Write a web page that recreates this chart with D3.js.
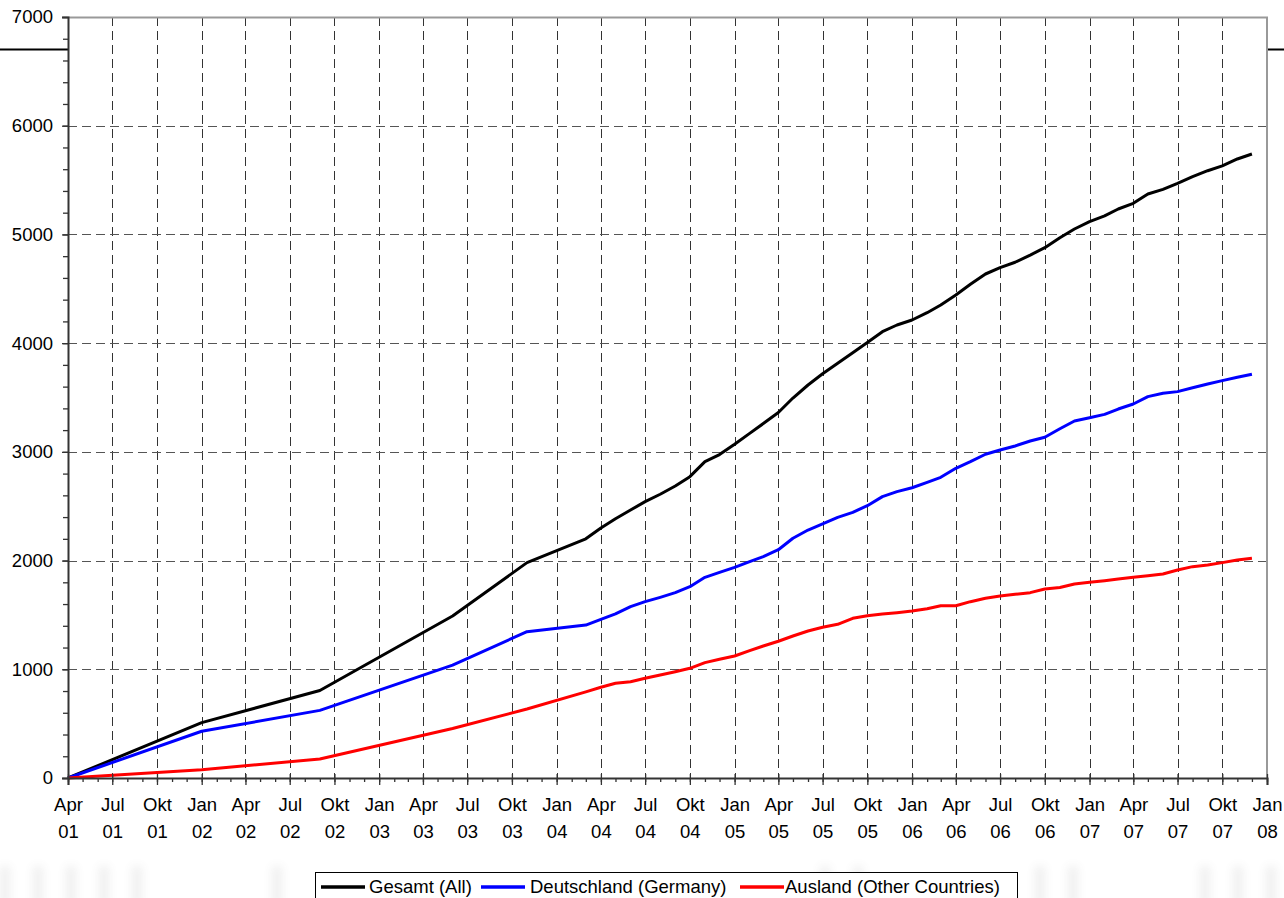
<!DOCTYPE html>
<html><head><meta charset="utf-8">
<script src="https://cdn.jsdelivr.net/npm/d3@7"></script>
<style>
html,body{margin:0;padding:0;background:#fff;}
svg{display:block;font-family:"Liberation Sans",Arial,sans-serif;}
</style></head>
<body>
<svg id="chart" width="1284" height="898"></svg>
<script>
const dates = ["2001-04","2002-01","2002-09","2003-06","2003-11","2004-03",
"2004-04","2004-05","2004-06","2004-07","2004-08","2004-09","2004-10","2004-11","2004-12",
"2005-01","2005-02","2005-03","2005-04","2005-05","2005-06","2005-07","2005-08","2005-09","2005-10","2005-11","2005-12",
"2006-01","2006-02","2006-03","2006-04","2006-05","2006-06","2006-07","2006-08","2006-09","2006-10","2006-11","2006-12",
"2007-01","2007-02","2007-03","2007-04","2007-05","2007-06","2007-07","2007-08","2007-09","2007-10","2007-11","2007-12"];

const gesamt = [0,509,805,1490,1981,2200,
2300,2385,2465,2542,2610,2686,2772,2910,2975,
3070,3170,3260,3362,3495,3615,3718,3815,3912,4005,4105,4167,
4213,4280,4351,4443,4541,4636,4694,4744,4810,4878,4970,5050,
5118,5170,5234,5286,5372,5415,5470,5531,5586,5630,5694,5740];

const deutschland = [0,430,622,1039,1346,1407,
1460,1509,1576,1622,1662,1705,1760,1846,1892,
1938,1990,2036,2100,2205,2281,2337,2398,2444,2505,2588,2634,
2670,2720,2766,2849,2910,2978,3017,3054,3100,3134,3212,3284,
3314,3345,3394,3440,3508,3539,3554,3590,3624,3655,3686,3714];

const ausland = [0,76,175,455,635,792,
835,871,886,917,948,978,1009,1061,1092,
1122,1171,1214,1258,1306,1352,1386,1414,1469,1493,1509,1521,
1536,1557,1585,1585,1622,1653,1674,1690,1705,1738,1752,1785,
1800,1815,1831,1846,1861,1877,1913,1944,1959,1981,2005,2021];

const seriesNames = ["Gesamt (All)","Deutschland (Germany)","Ausland (Other Countries)"];
const seriesColors = ["#000000","#0000ff","#ff0000"];
const monthNames = ["Jan","Feb","Mär","Apr","Mai","Jun","Jul","Aug","Sep","Okt","Nov","Dez"];
const yTicks = [0,1000,2000,3000,4000,5000,6000,7000];

const parse = d3.timeParse("%Y-%m");
const svg = d3.select("#chart");
const L = 68, R = 1267, T = 17, B = 778;
const FS = 18.5;

const x = d3.scaleTime().domain([new Date(2001,3,1), new Date(2008,0,1)]).range([L, R]);
const y = d3.scaleLinear().domain([0,7000]).range([B, T]);

// faint ghost stripes at bottom
const defs = svg.append("defs");
defs.append("filter").attr("id","blur").attr("x","-50%").attr("y","-50%").attr("width","200%").attr("height","200%")
  .append("feGaussianBlur").attr("stdDeviation",5);
const ghost = svg.append("g").attr("filter","url(#blur)").attr("opacity",0.09);
[[0,140],[272,30],[820,45],[1035,45],[1200,84]].forEach(([gx,gw])=>{
  for(let i=0;i<gw;i+=33){
    ghost.append("rect").attr("x",gx+i).attr("y",866).attr("width",10).attr("height",40).attr("fill","#555");
  }
});

// background header line (hidden behind plot)
svg.append("line").attr("x1",0).attr("x2",1284).attr("y1",49.5).attr("y2",49.5)
  .attr("stroke","#000").attr("stroke-width",2);
svg.append("rect").attr("x",L).attr("y",T).attr("width",R-L).attr("height",B-T).attr("fill","#fff");

// grid
const quarterTicks = d3.timeMonth.every(3).range(new Date(2001,3,1), new Date(2008,0,2));
svg.append("g").selectAll("line").data(quarterTicks.filter(d=>x(d)>L+1 && x(d)<R-1)).join("line")
  .attr("x1",d=>Math.round(x(d))+0.5).attr("x2",d=>Math.round(x(d))+0.5)
  .attr("y1",T).attr("y2",B)
  .attr("stroke","#333").attr("stroke-width",1).attr("stroke-dasharray","9,5");
svg.append("g").selectAll("line").data(yTicks.filter(v=>v>0 && v<7000)).join("line")
  .attr("x1",L).attr("x2",R).attr("y1",d=>Math.round(y(d))+0.5).attr("y2",d=>Math.round(y(d))+0.5)
  .attr("stroke","#555").attr("stroke-width",1).attr("stroke-dasharray","9,5");

// plot border (top/right)
svg.append("path").attr("d",`M${L},${T+0.5}H${R}V${B}`).attr("fill","none")
  .attr("stroke","#999").attr("stroke-width",2);

// lines
const line = d3.line().x((d,i)=>x(parse(dates[i]))).y(d=>y(d));
[gesamt, deutschland, ausland].forEach((s,k)=>{
  svg.append("path").datum(s).attr("d",line).attr("fill","none")
    .attr("stroke",seriesColors[k]).attr("stroke-width",3).attr("stroke-linejoin","round");
});

// y axis
const minorY = d3.range(0,7001,200);
const yAxisMinor = d3.axisLeft(y).tickValues(minorY).tickSize(5).tickFormat("");
svg.append("g").attr("transform",`translate(${L},0)`).call(yAxisMinor)
  .call(g=>g.select(".domain").remove())
  .call(g=>g.selectAll("line").attr("stroke","#333").attr("stroke-width",1.3));
const yAxis = d3.axisLeft(y).tickValues(yTicks).tickSize(6).tickPadding(9).tickFormat(d3.format("d"));
svg.append("g").attr("transform",`translate(${L},0)`).call(yAxis)
  .call(g=>g.select(".domain").attr("stroke","#333").attr("stroke-width",2))
  .call(g=>g.selectAll("line").attr("stroke","#333").attr("stroke-width",1.3))
  .call(g=>g.selectAll("text").attr("font-size",FS).attr("fill","#000")
     .attr("font-family","'Liberation Sans',Arial,sans-serif"));

// x axis
const monthTicks = d3.timeMonth.every(1).range(new Date(2001,3,1), new Date(2008,0,2));
const xMinor = d3.axisBottom(x).tickValues(monthTicks).tickSize(4).tickFormat("");
svg.append("g").attr("transform",`translate(0,${B})`).call(xMinor)
  .call(g=>g.select(".domain").remove())
  .call(g=>g.selectAll("line").attr("stroke","#333").attr("stroke-width",1.3));
const xAxis = d3.axisBottom(x).tickValues(quarterTicks).tickSize(7).tickFormat("");
const xg = svg.append("g").attr("transform",`translate(0,${B})`).call(xAxis)
  .call(g=>g.select(".domain").attr("stroke","#333").attr("stroke-width",2))
  .call(g=>g.selectAll("line").attr("stroke","#333").attr("stroke-width",1.3).attr("y1",-4));
xg.selectAll(".tick").each(function(d){
  const t = d3.select(this).append("text").attr("fill","#000").attr("font-size",FS)
    .attr("text-anchor","middle").attr("font-family","'Liberation Sans',Arial,sans-serif");
  t.append("tspan").attr("x",0).attr("y",33).text(monthNames[d.getMonth()]);
  t.append("tspan").attr("x",0).attr("y",60).text(d3.timeFormat("%y")(d));
});

// legend
const lg = svg.append("g");
lg.append("rect").attr("x",315.5).attr("y",872.5).attr("width",702).attr("height",40)
  .attr("fill","#fff").attr("stroke","#000").attr("stroke-width",1);
const legX = [[321,369],[481,530],[740,785]];
seriesNames.forEach((n,k)=>{
  lg.append("line").attr("x1",legX[k][0]).attr("x2",legX[k][0]+44).attr("y1",887).attr("y2",887)
    .attr("stroke",seriesColors[k]).attr("stroke-width",3.5);
  lg.append("text").attr("x",legX[k][1]).attr("y",893).attr("font-size",FS).attr("fill","#000").text(n);
});
</script>
</body></html>
